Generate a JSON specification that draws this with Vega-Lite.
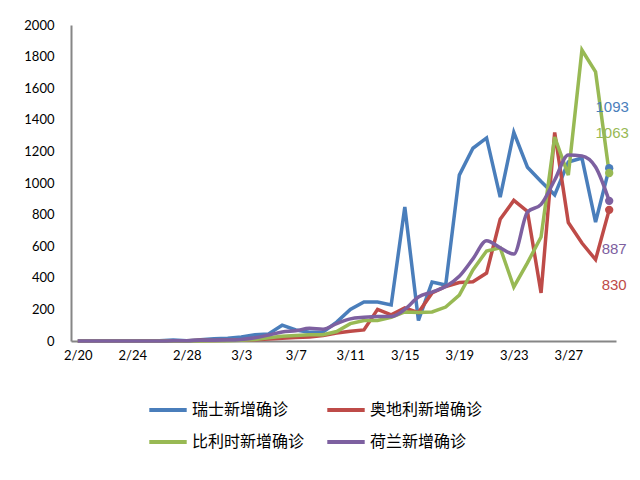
{
  "$schema": "https://vega.github.io/schema/vega-lite/v6.json",
  "description": "Daily new confirmed cases in four European countries, 2/20 to 3/30, with end labels on the last day",
  "autosize": {"type": "none"},
  "padding": {"left": 71, "top": 25, "right": 24, "bottom": 139},
  "width": 545,
  "height": 316,
  "datasets": {
    "cases": [
      {"date": "2/20", "瑞士新增确诊": 0, "奥地利新增确诊": 0, "比利时新增确诊": 0, "荷兰新增确诊": 0},
      {"date": "2/21", "瑞士新增确诊": 0, "奥地利新增确诊": 0, "比利时新增确诊": 0, "荷兰新增确诊": 0},
      {"date": "2/22", "瑞士新增确诊": 0, "奥地利新增确诊": 0, "比利时新增确诊": 0, "荷兰新增确诊": 0},
      {"date": "2/23", "瑞士新增确诊": 0, "奥地利新增确诊": 0, "比利时新增确诊": 0, "荷兰新增确诊": 0},
      {"date": "2/24", "瑞士新增确诊": 0, "奥地利新增确诊": 0, "比利时新增确诊": 0, "荷兰新增确诊": 0},
      {"date": "2/25", "瑞士新增确诊": 1, "奥地利新增确诊": 2, "比利时新增确诊": 0, "荷兰新增确诊": 0},
      {"date": "2/26", "瑞士新增确诊": 1, "奥地利新增确诊": 0, "比利时新增确诊": 0, "荷兰新增确诊": 0},
      {"date": "2/27", "瑞士新增确诊": 6, "奥地利新增确诊": 1, "比利时新增确诊": 0, "荷兰新增确诊": 1},
      {"date": "2/28", "瑞士新增确诊": 2, "奥地利新增确诊": 1, "比利时新增确诊": 0, "荷兰新增确诊": 1},
      {"date": "2/29", "瑞士新增确诊": 8, "奥地利新增确诊": 4, "比利时新增确诊": 0, "荷兰新增确诊": 5},
      {"date": "3/1", "瑞士新增确诊": 15, "奥地利新增确诊": 3, "比利时新增确诊": 1, "荷兰新增确诊": 5},
      {"date": "3/2", "瑞士新增确诊": 18, "奥地利新增确诊": 4, "比利时新增确诊": 2, "荷兰新增确诊": 6},
      {"date": "3/3", "瑞士新增确诊": 25, "奥地利新增确诊": 6, "比利时新增确诊": 5, "荷兰新增确诊": 10},
      {"date": "3/4", "瑞士新增确诊": 40, "奥地利新增确诊": 8, "比利时新增确诊": 10, "荷兰新增确诊": 20},
      {"date": "3/5", "瑞士新增确诊": 45, "奥地利新增确诊": 12, "比利时新增确诊": 20, "荷兰新增确诊": 38},
      {"date": "3/6", "瑞士新增确诊": 100, "奥地利新增确诊": 18, "比利时新增确诊": 30, "荷兰新增确诊": 57},
      {"date": "3/7", "瑞士新增确诊": 70, "奥地利新增确诊": 22, "比利时新增确诊": 35, "荷兰新增确诊": 65},
      {"date": "3/8", "瑞士新增确诊": 55, "奥地利新增确诊": 25, "比利时新增确诊": 40, "荷兰新增确诊": 80},
      {"date": "3/9", "瑞士新增确诊": 57, "奥地利新增确诊": 35, "比利时新增确诊": 40, "荷兰新增确诊": 75},
      {"date": "3/10", "瑞士新增确诊": 120, "奥地利新增确诊": 50, "比利时新增确诊": 60, "荷兰新增确诊": 110},
      {"date": "3/11", "瑞士新增确诊": 200, "奥地利新增确诊": 62, "比利时新增确诊": 110, "荷兰新增确诊": 140},
      {"date": "3/12", "瑞士新增确诊": 247, "奥地利新增确诊": 70, "比利时新增确诊": 130, "荷兰新增确诊": 150},
      {"date": "3/13", "瑞士新增确诊": 247, "奥地利新增确诊": 200, "比利时新增确诊": 130, "荷兰新增确诊": 155},
      {"date": "3/14", "瑞士新增确诊": 228, "奥地利新增确诊": 165, "比利时新增确诊": 150, "荷兰新增确诊": 155},
      {"date": "3/15", "瑞士新增确诊": 848, "奥地利新增确诊": 209, "比利时新增确诊": 184, "荷兰新增确诊": 200},
      {"date": "3/16", "瑞士新增确诊": 130, "奥地利新增确诊": 180, "比利时新增确诊": 180, "荷兰新增确诊": 278},
      {"date": "3/17", "瑞士新增确诊": 373, "奥地利新增确诊": 304, "比利时新增确诊": 184, "荷兰新增确诊": 310},
      {"date": "3/18", "瑞士新增确诊": 354, "奥地利新增确诊": 345, "比利时新增确诊": 215, "荷兰新增确诊": 345},
      {"date": "3/19", "瑞士新增确诊": 1050, "奥地利新增确诊": 370, "比利时新增确诊": 290, "荷兰新增确诊": 410},
      {"date": "3/20", "瑞士新增确诊": 1220, "奥地利新增确诊": 375, "比利时新增确诊": 450, "荷兰新增确诊": 520},
      {"date": "3/21", "瑞士新增确诊": 1285, "奥地利新增确诊": 430, "比利时新增确诊": 570, "荷兰新增确诊": 635},
      {"date": "3/22", "瑞士新增确诊": 910, "奥地利新增确诊": 770, "比利时新增确诊": 590, "荷兰新增确诊": 590},
      {"date": "3/23", "瑞士新增确诊": 1320, "奥地利新增确诊": 890, "比利时新增确诊": 342, "荷兰新增确诊": 550},
      {"date": "3/24", "瑞士新增确诊": 1100, "奥地利新增确诊": 820, "比利时新增确诊": 495, "荷兰新增确诊": 816},
      {"date": "3/25", "瑞士新增确诊": 1010, "奥地利新增确诊": 304, "比利时新增确诊": 658, "荷兰新增确诊": 865},
      {"date": "3/26", "瑞士新增确诊": 925, "奥地利新增确诊": 1320, "比利时新增确诊": 1291, "荷兰新增确诊": 1019},
      {"date": "3/27", "瑞士新增确诊": 1133, "奥地利新增确诊": 750, "比利时新增确诊": 1050, "荷兰新增确诊": 1177},
      {"date": "3/28", "瑞士新增确诊": 1158, "奥地利新增确诊": 620, "比利时新增确诊": 1842, "荷兰新增确诊": 1171},
      {"date": "3/29", "瑞士新增确诊": 753, "奥地利新增确诊": 515, "比利时新增确诊": 1703, "荷兰新增确诊": 1101},
      {"date": "3/30", "瑞士新增确诊": 1093, "奥地利新增确诊": 830, "比利时新增确诊": 1063, "荷兰新增确诊": 887}
    ]
  },
  "data": {"name": "cases"},
  "transform": [
    {"fold": ["瑞士新增确诊", "奥地利新增确诊", "比利时新增确诊", "荷兰新增确诊"], "as": ["series", "value"]}
  ],
  "encoding": {
    "x": {
      "field": "date",
      "type": "ordinal",
      "sort": null,
      "scale": {"type": "point", "padding": 0.5},
      "axis": {
        "title": null,
        "values": ["2/20", "2/24", "2/28", "3/3", "3/7", "3/11", "3/15", "3/19", "3/23", "3/27"],
        "labelAngle": 0,
        "ticks": false,
        "labelPadding": 8
      }
    },
    "y": {
      "field": "value",
      "type": "quantitative",
      "scale": {"domain": [0, 2000], "nice": false},
      "axis": {"title": null, "format": "d", "values": [0, 200, 400, 600, 800, 1000, 1200, 1400, 1600, 1800, 2000], "grid": false, "ticks": false, "labelPadding": 17}
    },
    "color": {
      "field": "series",
      "type": "nominal",
      "scale": {
        "domain": ["瑞士新增确诊", "奥地利新增确诊", "比利时新增确诊", "荷兰新增确诊"],
        "range": ["#4A7EBB", "#BE4B48", "#98B954", "#7D60A0"]
      },
      "legend": {
        "title": null,
        "orient": "none",
        "legendX": 76,
        "legendY": 364,
        "direction": "horizontal",
        "columns": 2,
        "symbolType": "stroke",
        "symbolSize": 1400,
        "symbolStrokeWidth": 4,
        "labelFont": "Noto Sans CJK SC",
        "labelFontSize": 16,
        "labelColor": "#000",
        "labelOffset": 3,
        "columnPadding": 14,
        "rowPadding": 3
      }
    }
  },
  "layer": [
    {
      "transform": [{"filter": "datum.series != '荷兰新增确诊'"}],
      "mark": {"type": "line", "strokeWidth": 3.5}
    },
    {
      "transform": [{"filter": "datum.series == '荷兰新增确诊'"}],
      "mark": {"type": "line", "strokeWidth": 3.5, "interpolate": "monotone"}
    },
    {
      "transform": [{"filter": "datum.date == '3/30'"}],
      "mark": {"type": "circle", "size": 70, "opacity": 1}
    },
    {
      "transform": [{"filter": "datum.date == '3/30' && datum.series == '瑞士新增确诊'"}],
      "mark": {"type": "text", "dy": -61, "dx": 3, "font": "Liberation Sans", "fontSize": 15},
      "encoding": {"text": {"field": "value", "type": "quantitative"}}
    },
    {
      "transform": [{"filter": "datum.date == '3/30' && datum.series == '比利时新增确诊'"}],
      "mark": {"type": "text", "dy": -40, "dx": 3, "font": "Liberation Sans", "fontSize": 15},
      "encoding": {"text": {"field": "value", "type": "quantitative"}}
    },
    {
      "transform": [{"filter": "datum.date == '3/30' && datum.series == '荷兰新增确诊'"}],
      "mark": {"type": "text", "dy": 48, "dx": 5, "font": "Liberation Sans", "fontSize": 15},
      "encoding": {"text": {"field": "value", "type": "quantitative"}}
    },
    {
      "transform": [{"filter": "datum.date == '3/30' && datum.series == '奥地利新增确诊'"}],
      "mark": {"type": "text", "dy": 75, "dx": 5, "font": "Liberation Sans", "fontSize": 15},
      "encoding": {"text": {"field": "value", "type": "quantitative"}}
    }
  ],
  "config": {
    "view": {"stroke": null},
    "axis": {
      "domainColor": "#868686",
      "domainWidth": 2,
      "labelFont": "Lato",
      "labelFontSize": 13,
      "labelColor": "#000"
    }
  }
}
